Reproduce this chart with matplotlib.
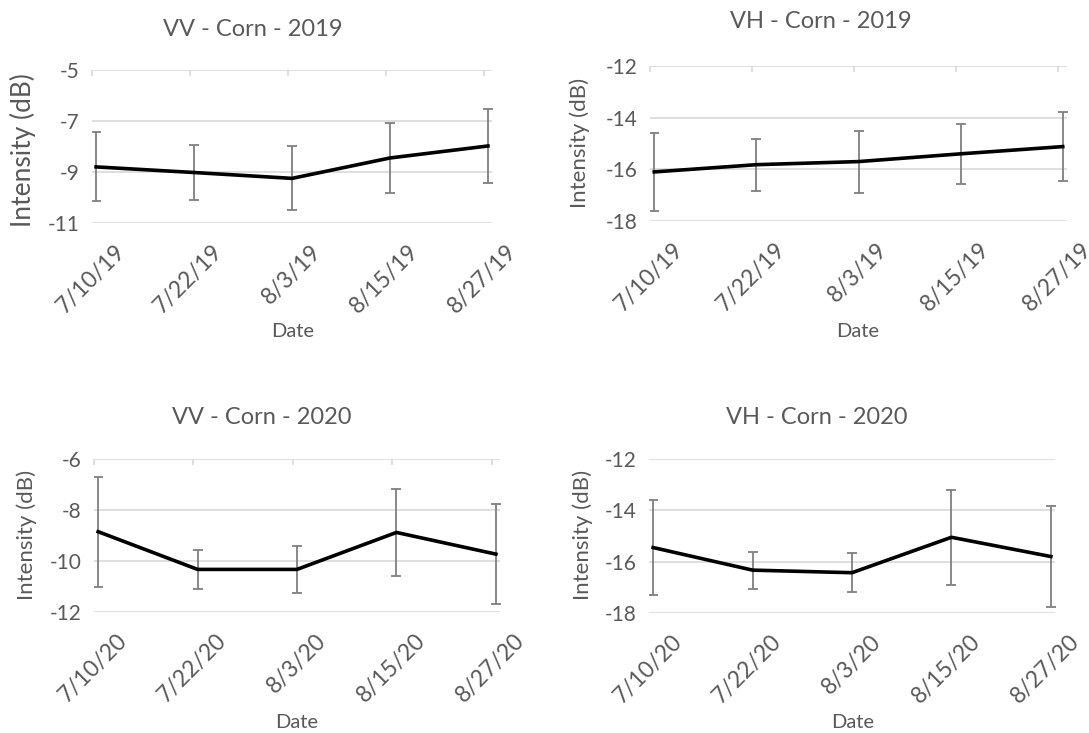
import datetime as dt

import matplotlib
matplotlib.use("Agg")
import matplotlib.pyplot as plt
from matplotlib.transforms import ScaledTranslation

plt.rcParams["font.family"] = ["Lato", "DejaVu Sans"]
plt.rcParams["axes.unicode_minus"] = False

INK = "#595959"
GRID = "#d9d9d9"
W, H = 1089, 733

DATES_2019 = ["7/10/19", "7/22/19", "8/3/19", "8/15/19", "8/27/19"]
DATES_2020 = ["7/10/20", "7/22/20", "8/3/20", "8/15/20", "8/27/20"]

VV_2019 = [-8.8, -9.02, -9.25, -8.45, -7.98]
VV_2019_ERR = [1.35, 1.07, 1.25, 1.38, 1.45]
VH_2019 = [-16.1, -15.82, -15.7, -15.4, -15.12]
VH_2019_ERR = [1.5, 1.0, 1.2, 1.15, 1.32]
VV_2020 = [-8.85, -10.33, -10.33, -8.88, -9.73]
VV_2020_ERR = [2.15, 0.78, 0.92, 1.7, 1.97]
VH_2020 = [-15.45, -16.33, -16.43, -15.05, -15.8]
VH_2020_ERR = [1.86, 0.72, 0.76, 1.86, 1.96]


def days(labels):
    d = [dt.datetime.strptime(s, "%m/%d/%y") for s in labels]
    return [(x - d[0]).days for x in d]


def panel(fig, box, dates, vals, errs, ylim, title, title_xy, ylab_xy,
          date_xy, ylab_size, top_ticks=True):
    x0, y0, x1, y1 = box
    ax = fig.add_axes([x0 / W, 1 - y1 / H, (x1 - x0) / W, (y1 - y0) / H])
    t = days(dates)
    # acquisitions sit about half a day after the date tick
    xs = [v + 0.5 for v in t]
    ax.errorbar(xs, vals, yerr=errs, color="black", lw=2.6, ecolor="#7f7f7f",
                elinewidth=1.3, capsize=3.5, capthick=1.3, zorder=3)
    ax.set_xlim(0, 49)
    ax.set_ylim(*ylim)
    ax.set_yticks(range(ylim[0], ylim[1] + 1, 2))
    ax.set_xticks(t, dates)
    ax.grid(axis="y", color=GRID, lw=1.2)
    ax.set_axisbelow(True)
    for s in ax.spines.values():
        s.set_visible(False)
    ax.tick_params(axis="y", length=0, pad=9, labelsize=15, labelcolor=INK)
    ax.tick_params(axis="x", bottom=False, top=top_ticks, direction="in",
                   length=4, width=1.2, color=GRID, labelbottom=True,
                   labelsize=16.5, labelcolor=INK, pad=13)
    off = ScaledTranslation(22 / 100, 0, fig.dpi_scale_trans)
    for lbl in ax.get_xticklabels():
        lbl.set_rotation(45)
        lbl.set_ha("right")
        lbl.set_va("top")
        lbl.set_rotation_mode("anchor")
        lbl.set_transform(lbl.get_transform() + off)
    fig.text(title_xy[0] / W, 1 - title_xy[1] / H, title, ha="center",
             va="center", fontsize=17, color=INK)
    fig.text(ylab_xy[0] / W, 1 - ylab_xy[1] / H, "Intensity (dB)", ha="center",
             va="center", rotation=90, fontsize=ylab_size, color=INK)
    fig.text(date_xy[0] / W, 1 - date_xy[1] / H, "Date", ha="center",
             va="center", fontsize=14.5, color=INK)
    return ax


fig = plt.figure(figsize=(W / 100, H / 100), dpi=100)
panel(fig, (92, 70, 492, 223), DATES_2019, VV_2019, VV_2019_ERR, (-11, -5),
      "VV - Corn - 2019", (253, 29), (23, 150), (293, 332), 19)
panel(fig, (650, 66, 1067, 221), DATES_2019, VH_2019, VH_2019_ERR, (-18, -12),
      "VH - Corn - 2019", (821, 22), (580, 143), (858, 332), 16)
panel(fig, (94, 459, 500, 612), DATES_2020, VV_2020, VV_2020_ERR, (-12, -6),
      "VV - Corn - 2020", (262, 418), (27, 535), (297, 722), 16)
panel(fig, (649, 459, 1055, 613), DATES_2020, VH_2020, VH_2020_ERR, (-18, -12),
      "VH - Corn - 2020", (817, 418), (583, 535), (853, 722), 16,
      top_ticks=False)
fig.savefig("out.png", dpi=100)
